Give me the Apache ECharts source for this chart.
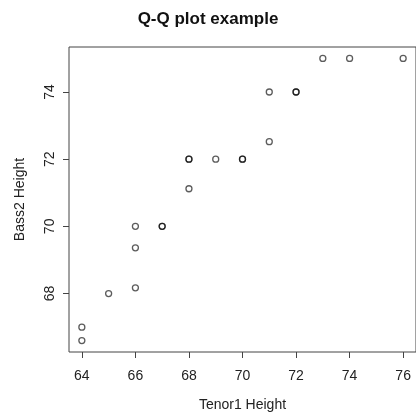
<!DOCTYPE html>
<html>
<head>
<meta charset="utf-8">
<script src="https://cdn.jsdelivr.net/npm/echarts@6/dist/echarts.min.js"></script>
<style>
  html, body { margin: 0; padding: 0; background: #fff; }
  #chart { width: 416px; height: 417px; }
</style>
</head>
<body>
<div id="chart"></div>
<script>
// sample quantiles, duplicates drawn twice like in R
const tenor = [64, 64, 65, 66, 66, 66, 67, 67, 68, 68, 68, 69, 70, 70, 71, 71, 72, 72, 73, 74, 76];
const bass  = [66.6, 67.0, 68.0, 68.17, 69.36, 70.0, 70.0, 70.0, 71.12, 72.0, 72.0, 72.0, 72.0, 72.0, 72.52, 74.0, 74.0, 74.0, 75.0, 75.0, 75.0];
const xTicks = [64, 66, 68, 70, 72, 74, 76];
const yTicks = [68, 70, 72, 74];

const points = tenor.map((t, i) => [t, bass[i]]);

const chart = echarts.init(document.getElementById('chart'));
const font = 'Liberation Sans, Arial, sans-serif';

chart.setOption({
  backgroundColor: '#fff',
  animation: false,
  title: {
    text: 'Q-Q plot example',
    left: 'center',
    top: 6,
    textStyle: { fontFamily: font, fontSize: 17, fontWeight: 'bold', color: '#111' }
  },
  grid: {
    left: 69, top: 47, right: -4, bottom: 63,
    show: true, borderColor: '#444', borderWidth: 1
  },
  xAxis: {
    type: 'value',
    min: 63.52, max: 76.48,
    name: 'Tenor1 Height',
    nameLocation: 'middle',
    nameGap: 46,
    nameTextStyle: { fontFamily: font, fontSize: 14, color: '#222' },
    axisLine: { show: false },
    splitLine: { show: false },
    axisTick: { show: true, length: 6, lineStyle: { color: '#444' }, customValues: xTicks },
    axisLabel: { fontFamily: font, fontSize: 14, color: '#222', margin: 17, customValues: xTicks }
  },
  yAxis: {
    type: 'value',
    min: 66.26, max: 75.34,
    name: 'Bass2 Height',
    nameLocation: 'middle',
    nameGap: 42,
    nameTextStyle: { fontFamily: font, fontSize: 14, color: '#222' },
    axisLine: { show: false },
    splitLine: { show: false },
    axisTick: { show: true, length: 6, lineStyle: { color: '#444' }, customValues: yTicks },
    axisLabel: { fontFamily: font, fontSize: 14, color: '#222', margin: 12, rotate: 90, customValues: yTicks }
  },
  series: [{
    type: 'scatter',
    data: points,
    symbol: 'circle',
    symbolSize: 6,
    itemStyle: { color: 'rgba(0,0,0,0)', borderColor: 'rgba(0,0,0,0.8)', borderWidth: 1.3 }
  }]
});
</script>
</body>
</html>
